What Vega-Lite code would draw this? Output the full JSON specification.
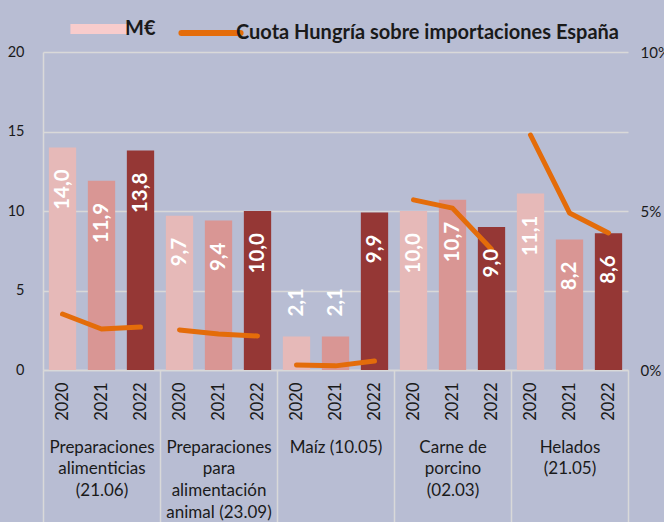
{
  "$schema": "https://vega.github.io/schema/vega-lite/v6.json",
  "width": 585,
  "height": 318,
  "autosize": {"type": "none"},
  "padding": {"left": 43, "top": 52, "right": 36, "bottom": 152},
  "background": "#b8bdd3",
  "config": {
    "view": {"stroke": null},
    "font": "Lato",
    "locale": {"number": {"decimal": ",", "thousands": ".", "grouping": [3], "currency": ["", " €"]}}
  },
  "data": {
    "values": [
      {"cat": "Preparaciones\nalimenticias\n(21.06)", "year": "2020", "k": "1-2020", "value": 14.0, "share": 0.0176},
      {"cat": "Preparaciones\nalimenticias\n(21.06)", "year": "2021", "k": "1-2021", "value": 11.9, "share": 0.0129},
      {"cat": "Preparaciones\nalimenticias\n(21.06)", "year": "2022", "k": "1-2022", "value": 13.8, "share": 0.0135},
      {"cat": "Preparaciones\npara\nalimentación\nanimal   (23.09)", "year": "2020", "k": "2-2020", "value": 9.7, "share": 0.0126},
      {"cat": "Preparaciones\npara\nalimentación\nanimal   (23.09)", "year": "2021", "k": "2-2021", "value": 9.4, "share": 0.0113},
      {"cat": "Preparaciones\npara\nalimentación\nanimal   (23.09)", "year": "2022", "k": "2-2022", "value": 10.0, "share": 0.0107},
      {"cat": "Maíz (10.05)", "year": "2020", "k": "3-2020", "value": 2.1, "share": 0.0016},
      {"cat": "Maíz (10.05)", "year": "2021", "k": "3-2021", "value": 2.1, "share": 0.0013},
      {"cat": "Maíz (10.05)", "year": "2022", "k": "3-2022", "value": 9.9, "share": 0.0028},
      {"cat": "Carne de\nporcino\n(02.03)", "year": "2020", "k": "4-2020", "value": 10.0, "share": 0.0535},
      {"cat": "Carne de\nporcino\n(02.03)", "year": "2021", "k": "4-2021", "value": 10.7, "share": 0.0509},
      {"cat": "Carne de\nporcino\n(02.03)", "year": "2022", "k": "4-2022", "value": 9.0, "share": 0.0380},
      {"cat": "Helados\n(21.05)", "year": "2020", "k": "5-2020", "value": 11.1, "share": 0.0739},
      {"cat": "Helados\n(21.05)", "year": "2021", "k": "5-2021", "value": 8.2, "share": 0.0494},
      {"cat": "Helados\n(21.05)", "year": "2022", "k": "5-2022", "value": 8.6, "share": 0.0431}
    ]
  },
  "layer": [
    {
      "mark": {"type": "bar"},
      "encoding": {
        "x": {
          "field": "k", "type": "nominal", "sort": null,
          "scale": {"type": "band", "paddingInner": 0.3, "paddingOuter": 0.15},
          "axis": {
            "orient": "bottom", "title": null, "labelExpr": "slice(datum.label, 2)", "labelAngle": 270,
            "labelFontSize": 16.5, "labelColor": "#1a1a1a", "labelPadding": 12,
            "ticks": false, "domain": true, "domainColor": "#d9d9d9", "domainWidth": 1.5,
            "grid": false
          }
        },
        "y": {
          "field": "value", "type": "quantitative",
          "scale": {"domain": [0, 20]},
          "axis": {
            "title": null, "values": [0, 5, 10, 15, 20], "grid": true,
            "gridColor": "#d9d9d9", "gridWidth": 1.5, "domain": true,
            "domainColor": "#d9d9d9", "domainWidth": 1.5, "ticks": false,
            "labelPadding": 19, "labelFontSize": 14.5, "labelColor": "#1a1a1a"
          }
        },
        "fill": {
          "field": "year", "type": "nominal",
          "scale": {"domain": ["2020", "2021", "2022"], "range": ["#e6b9b8", "#d99694", "#953735"]},
          "legend": null
        }
      }
    },
    {
      "mark": {"type": "line", "strokeWidth": 5, "strokeCap": "round", "strokeJoin": "round"},
      "encoding": {
        "x": {
          "field": "k", "type": "nominal", "sort": null,
          "scale": {"type": "band", "paddingInner": 0.3, "paddingOuter": 0.15},
          "axis": null
        },
        "y": {
          "field": "share", "type": "quantitative",
          "scale": {"domain": [0, 0.1]},
          "axis": {
            "orient": "right", "title": null, "values": [0, 0.05, 0.1], "format": ".0%",
            "grid": false, "domain": false, "ticks": false, "labelPadding": 12,
            "labelFontSize": 15, "labelColor": "#1a1a1a"
          }
        },
        "detail": {"field": "cat", "type": "nominal"},
        "stroke": {
          "datum": "Cuota Hungría sobre importaciones España",
          "type": "nominal",
          "scale": {"domain": ["M€", "Cuota Hungría sobre importaciones España"], "range": ["#f8cccc", "#e46c0a"]},
          "legend": {
            "title": null, "orient": "none", "legendX": 47, "legendY": -33,
            "direction": "horizontal", "labelFontSize": 20, "labelFontWeight": "bold",
            "labelColor": "#1a1a1a", "symbolType": "stroke", "symbolSize": 3500,
            "labelOffset": 15, "columnPadding": 13, "labelLimit": 600,
            "encode": {
              "symbols": {
                "update": {
                  "strokeWidth": {"signal": "datum.value == 'M€' ? 10 : 6"},
                  "strokeCap": {"signal": "datum.value == 'M€' ? 'butt' : 'round'"}
                }
              }
            }
          }
        }
      }
    },
    {
      "mark": {"type": "text", "angle": 270, "align": "right", "baseline": "middle", "dx": -22, "fontSize": 20.5, "fontWeight": "bold", "fill": "white"},
      "encoding": {
        "x": {
          "field": "cat", "type": "nominal", "sort": null,
          "scale": {"type": "band", "paddingInner": 0, "paddingOuter": 0},
          "axis": {
            "orient": "bottom", "title": null, "labelAngle": 0, "labelExpr": "split(datum.label, '\\n')",
            "labelFontSize": 17, "labelLineHeight": 21.7, "labelColor": "#1a1a1a",
            "labelBaseline": "top", "labelAlign": "center", "labelLimit": 0,
            "labelOverlap": false, "labelBound": false,
            "labelPadding": -83, "tickBand": "extent", "ticks": true, "tickSize": 152,
            "tickColor": "#d9d9d9", "tickWidth": 1.5, "domain": false, "grid": false
          }
        },
        "xOffset": {
          "field": "year", "type": "nominal",
          "scale": {"type": "band", "paddingInner": 0.3, "paddingOuter": 0.15}
        },
        "y": {"field": "value", "type": "quantitative", "scale": {"domain": [0, 20]}, "axis": null},
        "text": {"condition": {"test": "datum.value >= 5", "field": "value", "type": "quantitative", "format": ".1f"}, "value": ""}
      }
    },
    {
      "mark": {"type": "text", "angle": 270, "align": "left", "baseline": "middle", "dx": 20, "fontSize": 20.5, "fontWeight": "bold", "fill": "white"},
      "encoding": {
        "x": {
          "field": "cat", "type": "nominal", "sort": null,
          "scale": {"type": "band", "paddingInner": 0, "paddingOuter": 0},
          "axis": null
        },
        "xOffset": {
          "field": "year", "type": "nominal",
          "scale": {"type": "band", "paddingInner": 0.3, "paddingOuter": 0.15}
        },
        "y": {"field": "value", "type": "quantitative", "scale": {"domain": [0, 20]}, "axis": null},
        "text": {"condition": {"test": "datum.value < 5", "field": "value", "type": "quantitative", "format": ".1f"}, "value": ""}
      }
    }
  ],
  "resolve": {"scale": {"x": "independent", "y": "independent", "xOffset": "independent"}}
}
